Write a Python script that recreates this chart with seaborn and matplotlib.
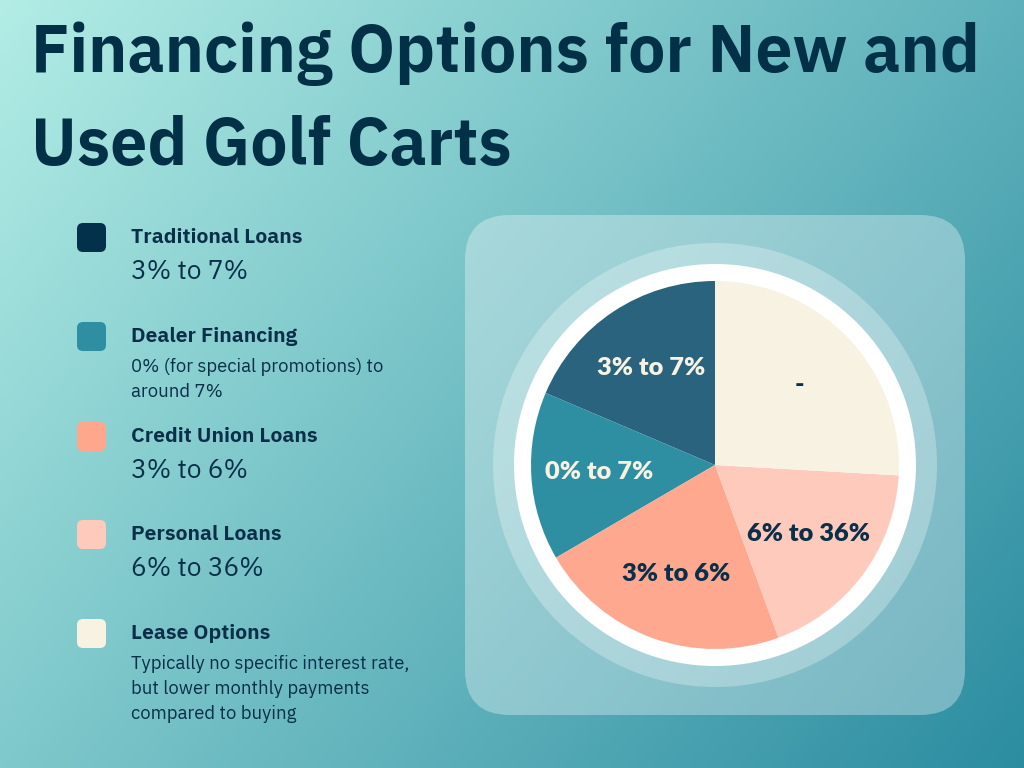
import numpy as np
import matplotlib
matplotlib.use("Agg")
import matplotlib.pyplot as plt
from matplotlib.patches import FancyBboxPatch, Circle
import seaborn as sns

# datos
categorias = ["Traditional Loans", "Dealer Financing", "Credit Union Loans",
              "Personal Loans", "Lease Options"]
tasas = ["3% to 7%",
         "0% (for special promotions) to\naround 7%",
         "3% to 6%",
         "6% to 36%",
         "Typically no specific interest rate,\nbut lower monthly payments\ncompared to buying"]
etiquetas_pie = ["3% to 7%", "0% to 7%", "3% to 6%", "6% to 36%", "-"]
porciones = [18.6, 14.8, 22.2, 18.5, 25.9]

colores_leyenda = ["#03304a", "#2e8fa3", "#fea78d", "#fecabb", "#f8f2e3"]
colores_pie = ["#2a637d", "#2e8fa3", "#fea98f", "#fecabb", "#f8f2e3"]
color_texto = "#0a2f49"
crema = "#f8f2e3"

sns.set_theme(style="white")
plt.rcParams['font.family'] = ['IBM Plex Sans', 'DejaVu Sans']

W, H = 1024, 768
fig = plt.figure(figsize=(W / 100, H / 100), dpi=100)

# fondo con degradado, en coordenadas de pixel (y hacia abajo)
bg = fig.add_axes([0, 0, 1, 1])
xx, yy = np.meshgrid(np.linspace(0, 1, 256), np.linspace(0, 1, 192))
t = 0.62 * xx + 0.38 * yy
c0 = np.array([0.70, 0.93, 0.90])
c1 = np.array([0.17, 0.55, 0.63])
img = c0[None, None, :] * (1 - t[..., None]) + c1[None, None, :] * t[..., None]
bg.imshow(img, extent=[0, W, H, 0], aspect='auto', interpolation='bilinear')
bg.set_xlim(0, W)
bg.set_ylim(H, 0)
bg.axis('off')

# titulo
fuente_titulo = dict(family='IBM Plex Sans JP', weight='bold', size=45.4,
                     color="#023047", va='baseline', ha='left')
bg.text(31, 72, "Financing Options for New and", **fuente_titulo)
bg.text(31, 165, "Used Golf Carts", **fuente_titulo)

# leyenda a la izquierda
y_nombres = [243, 342, 442, 540, 639]
for nombre, tasa, col, yb in zip(categorias, tasas, colores_leyenda, y_nombres):
    bg.add_patch(FancyBboxPatch((77, yb - 20), 29, 29,
                                boxstyle="round,pad=0,rounding_size=6",
                                fc=col, ec='none'))
    bg.text(131, yb, nombre, family='IBM Plex Sans JP', weight='bold', size=14.5,
            color=color_texto, va='baseline')
    lineas = tasa.split("\n")
    if len(lineas) == 1:
        bg.text(131, yb + 36, tasa, size=19, color=color_texto, va='baseline')
    else:
        for i, linea in enumerate(lineas):
            bg.text(131, yb + 30 + 25 * i, linea, size=13.3,
                    color=color_texto, va='baseline')

# panel y anillos detras del pie
bg.add_patch(FancyBboxPatch((465, 215), 500, 500,
                            boxstyle="round,pad=0,rounding_size=45",
                            fc='white', ec='none', alpha=0.33))
cx, cy = 715, 465
bg.add_patch(Circle((cx, cy), 222, fc='white', ec='none', alpha=0.28))
bg.add_patch(Circle((cx, cy), 201, fc='white', ec='none'))

# pie
r = 184
ax = fig.add_axes([(cx - r) / W, (H - cy - r) / H, 2 * r / W, 2 * r / H])
wedges, textos = ax.pie(porciones, labels=etiquetas_pie, colors=colores_pie,
                        startangle=90, counterclock=True, labeldistance=0.63,
                        wedgeprops=dict(linewidth=0))
for txt, col in zip(textos, colores_pie):
    oscuro = col in ("#2a637d", "#2e8fa3")
    txt.set_color(crema if oscuro else color_texto)
    txt.set_ha('center')
    txt.set_va('center')
    txt.set_fontfamily(['Lato', 'DejaVu Sans'])
    txt.set_fontweight(800)
    txt.set_fontsize(18.3)
ax.set_xlim(-1, 1)
ax.set_ylim(-1, 1)
ax.set_aspect('equal')
ax.axis('off')

fig.savefig("out.png", dpi=100)
